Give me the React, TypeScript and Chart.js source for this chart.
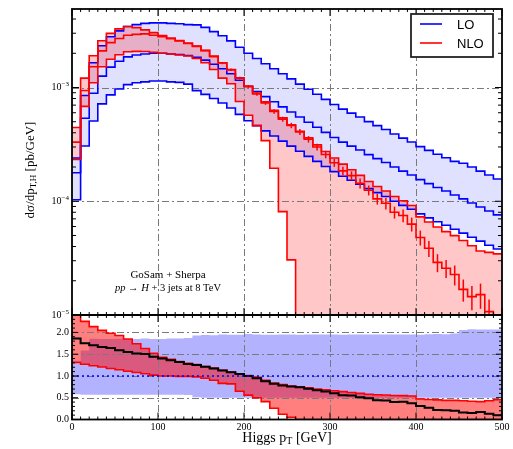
import React, { useEffect, useRef } from "react";
import { Chart, registerables } from "chart.js";

Chart.register(...registerables);

// ---------------- data ----------------
const binLowEdges = [0, 10, 20, 30, 40, 50, 60, 70, 80, 90, 100, 110, 120, 130, 140, 150, 160, 170, 180, 190, 200, 210, 220, 230, 240, 250, 260, 270, 280, 290, 300, 310, 320, 330, 340, 350, 360, 370, 380, 390, 400, 410, 420, 430, 440, 450, 460, 470, 480, 490];
const binWidth = 10;

const loCentral = [1.78e-4, 5.37e-4, 8.91e-4, 1.26e-3, 1.51e-3, 1.70e-3, 1.86e-3, 1.93e-3, 1.97e-3, 2.00e-3,
  2.00e-3, 1.97e-3, 1.95e-3, 1.91e-3, 1.84e-3, 1.74e-3, 1.60e-3, 1.46e-3, 1.32e-3, 1.16e-3,
  1.02e-3, 9.23e-4, 8.32e-4, 7.50e-4, 6.76e-4, 6.10e-4, 5.50e-4, 4.95e-4, 4.47e-4, 4.03e-4,
  3.63e-4, 3.31e-4, 3.05e-4, 2.82e-4, 2.57e-4, 2.37e-4, 2.19e-4, 2.00e-4, 1.84e-4, 1.70e-4,
  1.55e-4, 1.43e-4, 1.32e-4, 1.23e-4, 1.135e-4, 1.05e-4, 9.66e-5, 8.91e-5, 8.22e-5, 7.59e-5];

const loUpper = [2.4e-4, 8.5e-4, 1.65e-3, 2.33e-3, 2.79e-3, 3.15e-3, 3.44e-3, 3.57e-3, 3.66e-3, 3.70e-3,
  3.70e-3, 3.66e-3, 3.63e-3, 3.57e-3, 3.55e-3, 3.38e-3, 3.10e-3, 2.85e-3, 2.57e-3, 2.26e-3,
  2.00e-3, 1.80e-3, 1.62e-3, 1.46e-3, 1.32e-3, 1.19e-3, 1.07e-3, 9.65e-4, 8.72e-4, 7.86e-4,
  7.08e-4, 6.45e-4, 5.95e-4, 5.50e-4, 5.01e-4, 4.62e-4, 4.27e-4, 3.90e-4, 3.59e-4, 3.32e-4,
  3.02e-4, 2.80e-4, 2.59e-4, 2.41e-4, 2.24e-4, 2.16e-4, 2.00e-4, 1.84e-4, 1.70e-4, 1.57e-4];

const loLower = [1.03e-4, 3.06e-4, 5.08e-4, 7.18e-4, 8.61e-4, 9.69e-4, 1.06e-3, 1.10e-3, 1.12e-3, 1.14e-3,
  1.14e-3, 1.12e-3, 1.11e-3, 1.07e-3, 9.38e-4, 8.70e-4, 8.00e-4, 7.30e-4, 6.60e-4, 5.80e-4,
  5.10e-4, 4.62e-4, 4.16e-4, 3.75e-4, 3.38e-4, 3.05e-4, 2.75e-4, 2.48e-4, 2.24e-4, 2.02e-4,
  1.82e-4, 1.66e-4, 1.53e-4, 1.41e-4, 1.29e-4, 1.19e-4, 1.10e-4, 1.00e-4, 9.20e-5, 8.50e-5,
  7.75e-5, 7.15e-5, 6.60e-5, 6.15e-5, 5.68e-5, 5.25e-5, 4.83e-5, 4.46e-5, 4.11e-5, 3.80e-5];

const nloCentral = [3.31e-4, 9.40e-4, 1.52e-3, 2.10e-3, 2.48e-3, 2.70e-3, 2.88e-3, 2.93e-3, 2.96e-3, 2.88e-3,
  2.80e-3, 2.68e-3, 2.57e-3, 2.44e-3, 2.30e-3, 2.11e-3, 1.87e-3, 1.64e-3, 1.43e-3, 1.21e-3,
  1.02e-3, 8.77e-4, 7.32e-4, 6.15e-4, 5.27e-4, 4.64e-4, 4.07e-4, 3.51e-4, 3.00e-4, 2.58e-4,
  2.18e-4, 1.85e-4, 1.68e-4, 1.44e-4, 1.25e-4, 1.05e-4, 9.6e-5, 8.0e-5, 7.5e-5, 6.3e-5,
  4.8e-5, 3.86e-5, 2.9e-5, 2.58e-5, 2.27e-5, 1.68e-5, 1.45e-5, 1.51e-5, 1.07e-5, 7.6e-6];

const nloUpper = [4.45e-4, 1.21e-3, 1.90e-3, 2.58e-3, 2.99e-3, 3.28e-3, 3.44e-3, 3.36e-3, 3.21e-3, 3.04e-3,
  2.86e-3, 2.72e-3, 2.59e-3, 2.46e-3, 2.32e-3, 2.12e-3, 1.89e-3, 1.65e-3, 1.44e-3, 1.22e-3,
  1.03e-3, 8.95e-4, 7.49e-4, 6.30e-4, 5.41e-4, 4.70e-4, 4.13e-4, 3.61e-4, 3.13e-4, 2.74e-4,
  2.40e-4, 2.12e-4, 1.89e-4, 1.69e-4, 1.49e-4, 1.35e-4, 1.23e-4, 1.10e-4, 1.01e-4, 9.18e-5,
  7.29e-5, 6.58e-5, 5.94e-5, 5.41e-5, 4.99e-5, 4.52e-5, 4.06e-5, 3.65e-5, 3.55e-5, 3.45e-5];

const nloLower = [2.33e-4, 6.82e-4, 1.10e-3, 1.52e-3, 1.77e-3, 1.94e-3, 2.06e-3, 2.08e-3, 2.07e-3, 2.04e-3,
  2.00e-3, 1.97e-3, 1.93e-3, 1.89e-3, 1.80e-3, 1.65e-3, 1.44e-3, 1.21e-3, 1.08e-3, 7.54e-4,
  5.71e-4, 4.62e-4, 3.41e-4, 1.95e-4, 8.1e-5, 3.05e-5, 0, 0, 0, 0,
  0, 0, 0, 0, 0, 0, 0, 0, 0, 0,
  0, 0, 0, 0, 0, 0, 0, 0, 0, 0];

// relative statistical error of the NLO central histogram
const nloErrRel = [0.01, 0.01, 0.01, 0.01, 0.01, 0.01, 0.01, 0.01, 0.01, 0.01,
  0.01, 0.012, 0.012, 0.014, 0.015, 0.017, 0.02, 0.022, 0.025, 0.028,
  0.03, 0.035, 0.04, 0.045, 0.05, 0.055, 0.06, 0.065, 0.07, 0.075,
  0.08, 0.085, 0.09, 0.1, 0.1, 0.11, 0.12, 0.12, 0.13, 0.14,
  0.15, 0.16, 0.18, 0.18, 0.2, 0.22, 0.24, 0.25, 0.28, 0.3];

const xTickValues = [0, 100, 200, 300, 400, 500];
const xTickLabels = ["0", "100", "200", "300", "400", "500"];
const xGridValues = [100, 200, 300, 400];
const upperDecades = [-5, -4, -3];
const upperGridValues = [1e-4, 1e-3];
const ratioTickValues = [0, 0.5, 1, 1.5, 2];
const ratioTickLabels = ["0.0", "0.5", "1.0", "1.5", "2.0"];
const ratioGridValues = [0.5, 1, 1.5, 2];
const seriesLabels = ["LO", "NLO"];
const annotationLine1 = "GoSam + Sherpa";
const xTitle = ["Higgs p", "T", " [GeV]"];
const yTitle = ["dσ/dp", "T,H", " [pb/GeV]"];

// ---------------- styling ----------------
const BLUE = "#0000ff";
const RED = "#ff0000";
const GRID = "#7a7a7a";
const SERIF = "'Liberation Serif', 'DejaVu Serif', serif";
const SANS = "'Liberation Sans', 'DejaVu Sans', sans-serif";
const X_MIN = 0;
const X_MAX = 500;
const Y_MIN = 1e-5;
const Y_MAX = 4.9e-3;
const R_MIN = 0;
const R_MAX = 2.4;

const hist = (vals: number[], floor = 0) => {
  const pts = binLowEdges.map((x, i) => ({ x, y: Math.max(vals[i], floor) }));
  pts.push({ x: binLowEdges[binLowEdges.length - 1] + binWidth, y: Math.max(vals[vals.length - 1], floor) });
  return pts;
};
const ratio = (num: number[]) => num.map((v, i) => v / loCentral[i]);

const lineDs = (data: any, color: string, width: number, extra: any = {}) => ({
  data,
  borderColor: color,
  borderWidth: width,
  backgroundColor: "rgba(0,0,0,0)",
  stepped: "before",
  pointRadius: 0,
  fill: false,
  ...extra,
});

function drawRuns(ctx: CanvasRenderingContext2D, runs: { text: string; font: string; dy?: number }[], cx: number, cy: number) {
  let total = 0;
  for (const r of runs) {
    ctx.font = r.font;
    total += ctx.measureText(r.text).width;
  }
  let x = cx - total / 2;
  ctx.textAlign = "left";
  ctx.textBaseline = "middle";
  for (const r of runs) {
    ctx.font = r.font;
    ctx.fillText(r.text, x, cy + (r.dy || 0));
    x += ctx.measureText(r.text).width;
  }
}

function gridLines(chart: any, yVals: number[]) {
  const { ctx, chartArea: a, scales } = chart;
  const x = scales.x, y = scales.y;
  ctx.save();
  ctx.beginPath();
  ctx.rect(a.left, a.top, a.right - a.left, a.bottom - a.top);
  ctx.clip();
  ctx.strokeStyle = GRID;
  ctx.lineWidth = 1;
  ctx.setLineDash([7, 3, 2, 3]);
  for (const v of xGridValues) {
    const px = Math.round(x.getPixelForValue(v)) + 0.5;
    ctx.beginPath();
    ctx.moveTo(px, a.top);
    ctx.lineTo(px, a.bottom);
    ctx.stroke();
  }
  for (const v of yVals) {
    const py = Math.round(y.getPixelForValue(v)) + 0.5;
    ctx.beginPath();
    ctx.moveTo(a.left, py);
    ctx.lineTo(a.right, py);
    ctx.stroke();
  }
  ctx.restore();
}

function frameAndXTicks(chart: any) {
  const { ctx, chartArea: a, scales } = chart;
  const x = scales.x;
  ctx.save();
  ctx.setLineDash([]);
  ctx.strokeStyle = "#000";
  ctx.lineWidth = 1;
  for (let v = X_MIN; v <= X_MAX; v += binWidth) {
    const px = x.getPixelForValue(v);
    const len = v % 100 === 0 ? 7 : 3;
    ctx.beginPath();
    ctx.moveTo(px, a.bottom);
    ctx.lineTo(px, a.bottom - len);
    ctx.moveTo(px, a.top);
    ctx.lineTo(px, a.top + len);
    ctx.stroke();
  }
  ctx.lineWidth = 1.8;
  ctx.strokeRect(a.left, a.top, a.right - a.left, a.bottom - a.top);
  ctx.restore();
}

const upperPlugin = {
  id: "upperDecor",
  beforeDatasetsDraw(chart: any) {
    gridLines(chart, upperGridValues);
  },
  afterDatasetsDraw(chart: any) {
    const { ctx, chartArea: a, scales } = chart;
    const x = scales.x, y = scales.y;
    // error bars on NLO central
    ctx.save();
    ctx.beginPath();
    ctx.rect(a.left, a.top, a.right - a.left, a.bottom - a.top);
    ctx.clip();
    ctx.strokeStyle = RED;
    ctx.lineWidth = 1.5;
    binLowEdges.forEach((e, i) => {
      const v = nloCentral[i];
      const err = v * nloErrRel[i];
      const px = x.getPixelForValue(e + binWidth / 2);
      const y1 = y.getPixelForValue(v - err);
      const y2 = y.getPixelForValue(v + err);
      if (y1 - y2 > 2) {
        ctx.beginPath();
        ctx.moveTo(px, y1);
        ctx.lineTo(px, y2);
        ctx.stroke();
      }
    });
    ctx.restore();

    frameAndXTicks(chart);

    // log y ticks
    ctx.save();
    ctx.strokeStyle = "#000";
    ctx.lineWidth = 1;
    for (const ex of upperDecades) {
      for (let m = 1; m <= 9; m++) {
        const v = m * Math.pow(10, ex);
        if (v < Y_MIN || v > Y_MAX) continue;
        const py = y.getPixelForValue(v);
        const len = m === 1 ? 7 : 4;
        ctx.beginPath();
        ctx.moveTo(a.left, py);
        ctx.lineTo(a.left + len, py);
        ctx.moveTo(a.right, py);
        ctx.lineTo(a.right - len, py);
        ctx.stroke();
      }
    }
    // labels 10^-k
    ctx.fillStyle = "#000";
    ctx.textBaseline = "middle";
    for (const ex of upperDecades) {
      const py = y.getPixelForValue(Math.pow(10, ex));
      const sup = "\u2212" + String(-ex);
      ctx.font = `7px ${SERIF}`;
      const ws = ctx.measureText(sup).width;
      ctx.textAlign = "right";
      ctx.fillText(sup, a.left - 3, py - 3);
      ctx.font = `10px ${SERIF}`;
      ctx.fillText("10", a.left - 3 - ws, py);
    }
    ctx.restore();

    // legend
    ctx.save();
    const bx = a.right - 91, by = a.top + 5, bw = 82, bh = 43;
    ctx.fillStyle = "#fff";
    ctx.fillRect(bx, by, bw, bh);
    ctx.strokeStyle = "#222";
    ctx.lineWidth = 1.8;
    ctx.strokeRect(bx, by, bw, bh);
    const entries = [
      { label: seriesLabels[0], color: BLUE, dy: 10 },
      { label: seriesLabels[1], color: RED, dy: 29 },
    ];
    for (const en of entries) {
      ctx.strokeStyle = en.color;
      ctx.lineWidth = 1.6;
      ctx.beginPath();
      ctx.moveTo(bx + 9, by + en.dy);
      ctx.lineTo(bx + 31, by + en.dy);
      ctx.stroke();
      ctx.fillStyle = "#000";
      ctx.font = `13px ${SANS}`;
      ctx.textAlign = "left";
      ctx.textBaseline = "middle";
      ctx.fillText(en.label, bx + 46, by + en.dy + 1);
    }
    ctx.restore();

    // annotation
    ctx.save();
    ctx.fillStyle = "#000";
    const cx = a.left + 96;
    drawRuns(ctx, [{ text: annotationLine1, font: `11px ${SERIF}` }], cx, a.top + 266);
    drawRuns(ctx, [
      { text: "pp", font: `italic 10.5px ${SERIF}` },
      { text: " \u2192 ", font: `10.5px ${SERIF}` },
      { text: "H", font: `italic 10.5px ${SERIF}` },
      { text: " + 3 jets at 8 TeV", font: `10.5px ${SERIF}` },
    ], cx, a.top + 279);
    ctx.restore();

    // y title
    ctx.save();
    ctx.fillStyle = "#000";
    ctx.translate(31, (a.top + a.bottom) / 2 + 8);
    ctx.rotate(-Math.PI / 2);
    drawRuns(ctx, [
      { text: yTitle[0], font: `13px ${SERIF}` },
      { text: yTitle[1], font: `9px ${SERIF}`, dy: 3 },
      { text: yTitle[2], font: `13px ${SERIF}` },
    ], 0, 0);
    ctx.restore();
  },
};

const lowerPlugin = {
  id: "lowerDecor",
  beforeDatasetsDraw(chart: any) {
    gridLines(chart, ratioGridValues);
  },
  afterDatasetsDraw(chart: any) {
    const { ctx, chartArea: a, scales } = chart;
    const x = scales.x, y = scales.y;
    frameAndXTicks(chart);
    ctx.save();
    ctx.strokeStyle = "#000";
    ctx.lineWidth = 1;
    for (let k = 0; k <= 24; k++) {
      const v = k / 10;
      const py = y.getPixelForValue(v);
      const len = k % 5 === 0 ? 6 : 3;
      ctx.beginPath();
      ctx.moveTo(a.left, py);
      ctx.lineTo(a.left + len, py);
      ctx.moveTo(a.right, py);
      ctx.lineTo(a.right - len, py);
      ctx.stroke();
    }
    ctx.fillStyle = "#000";
    ctx.font = `10px ${SERIF}`;
    ctx.textAlign = "right";
    ctx.textBaseline = "middle";
    ratioTickValues.forEach((v, i) => {
      ctx.fillText(ratioTickLabels[i], a.left - 3, y.getPixelForValue(v));
    });
    ctx.textAlign = "center";
    xTickValues.forEach((v, i) => {
      ctx.fillText(xTickLabels[i], x.getPixelForValue(v), a.bottom + 8);
    });
    drawRuns(ctx, [
      { text: xTitle[0], font: `14px ${SERIF}` },
      { text: xTitle[1], font: `10px ${SERIF}`, dy: 3 },
      { text: xTitle[2], font: `14px ${SERIF}` },
    ], (a.left + a.right) / 2, a.bottom + 19);
    ctx.restore();
  },
};

const baseOptions = (padding: any, yScale: any) => ({
  animation: false,
  responsive: false,
  maintainAspectRatio: false,
  devicePixelRatio: 1,
  layout: { padding },
  scales: {
    x: { type: "linear", min: X_MIN, max: X_MAX, display: false },
    y: yScale,
  },
  plugins: {
    legend: { display: false },
    tooltip: { enabled: false },
    filler: { propagate: false, drawTime: "beforeDatasetsDraw" },
  },
  elements: { point: { radius: 0 }, line: { tension: 0 } },
});

export default function App() {
  const upperRef = useRef<HTMLCanvasElement | null>(null);
  const lowerRef = useRef<HTMLCanvasElement | null>(null);

  useEffect(() => {
    const FLOOR = 1e-7;
    const upper = new Chart(upperRef.current as HTMLCanvasElement, {
      type: "line",
      data: {
        datasets: [
          lineDs(hist(nloCentral, FLOOR), RED, 1.6),
          lineDs(hist(nloUpper, FLOOR), RED, 1.6, { fill: { target: 2 }, backgroundColor: "rgba(255,0,0,0.22)" }),
          lineDs(hist(nloLower, FLOOR), RED, 1.6),
          lineDs(hist(loCentral, FLOOR), BLUE, 1.6),
          lineDs(hist(loUpper, FLOOR), BLUE, 1.6, { fill: { target: 5 }, backgroundColor: "rgba(0,0,255,0.12)" }),
          lineDs(hist(loLower, FLOOR), BLUE, 1.6),
        ],
      } as any,
      options: baseOptions({ left: 72, right: 11, top: 9, bottom: 10 },
        { type: "logarithmic", min: Y_MIN, max: Y_MAX, display: false, bounds: "data" }) as any,
      plugins: [upperPlugin],
    });

    const lower = new Chart(lowerRef.current as HTMLCanvasElement, {
      type: "line",
      data: {
        datasets: [
          lineDs(hist(ratio(loCentral)), BLUE, 1.5, { borderDash: [2, 3] }),
          lineDs(hist(ratio(nloCentral)), "#000", 2),
          lineDs(hist(ratio(nloUpper)), RED, 1.6, { fill: { target: 3 }, backgroundColor: "rgba(255,0,0,0.5)" }),
          lineDs(hist(ratio(nloLower)), RED, 1.6),
          lineDs(hist(ratio(loUpper)), "rgba(0,0,0,0)", 1, { fill: { target: 5 }, backgroundColor: "rgba(0,0,255,0.3)" }),
          lineDs(hist(ratio(loLower)), "rgba(0,0,0,0)", 1),
        ],
      } as any,
      options: baseOptions({ left: 72, right: 11, top: 15, bottom: 29.5 },
        { type: "linear", min: R_MIN, max: R_MAX, display: false }) as any,
      plugins: [lowerPlugin],
    });

    return () => {
      upper.destroy();
      lower.destroy();
    };
  }, []);

  return (
    <div style={{ position: "absolute", left: 0, top: 0, width: 513, height: 449, background: "#fff" }}>
      <canvas ref={upperRef} width={513} height={325} style={{ position: "absolute", left: 0, top: 0, width: 513, height: 325 }} />
      <canvas ref={lowerRef} width={513} height={149} style={{ position: "absolute", left: 0, top: 300, width: 513, height: 149 }} />
    </div>
  );
}
